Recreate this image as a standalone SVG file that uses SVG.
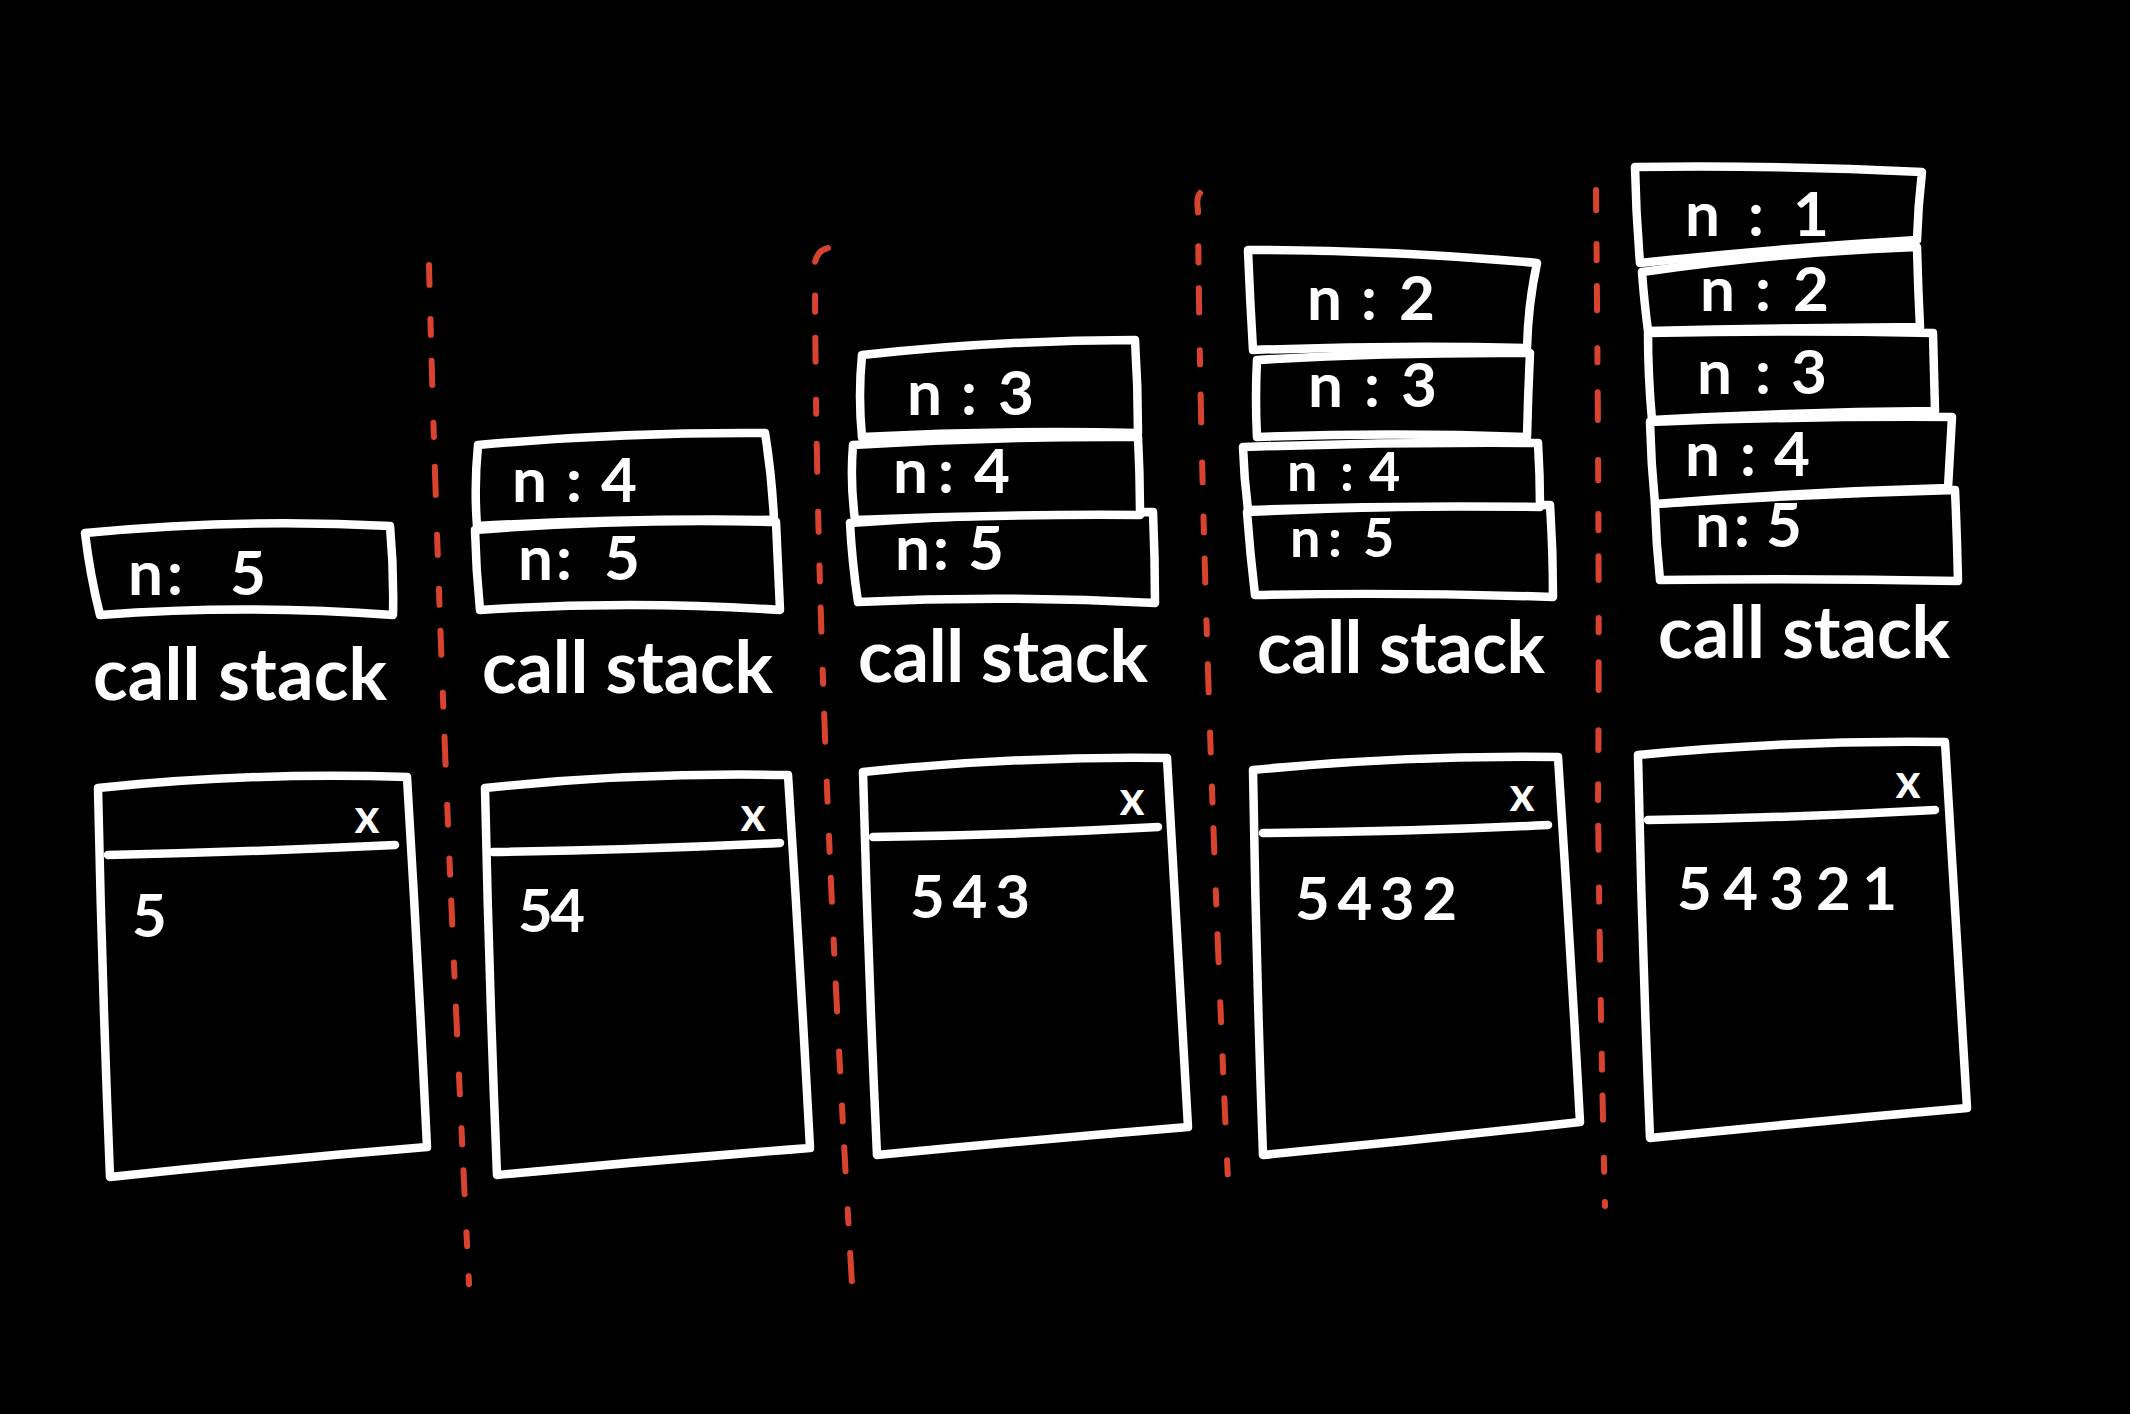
<svg xmlns="http://www.w3.org/2000/svg" width="2130" height="1414" viewBox="0 0 2130 1414">
<style>
.box{fill:#000;stroke:#fff;stroke-width:8.5;stroke-linejoin:round;stroke-linecap:round}
.ln{fill:none;stroke:#fff;stroke-width:8.5;stroke-linecap:round}
.t{font-family:Lato,"Open Sans","Liberation Sans",sans-serif;font-weight:700;fill:#fff}
.lbl{font-size:62px}
.sm{font-size:54px}
.cs{font-size:72px}
.num{font-size:60px}
.xm{font-size:48px;text-anchor:middle}
.dv{fill:none;stroke:#d8432f;stroke-width:6;stroke-linecap:round;stroke-dasharray:20 34 16 26 24 38 14 30 28 40}
</style>
<rect x="0" y="0" width="2130" height="1414" fill="#000"/>

<g id="dividers">
<path class="dv" d="M429,265 Q440,700 469,1284"/>
<path class="dv" d="M828,248 Q818,250 815,262 C815,600 835,1000 854,1318"/>
<path class="dv" d="M1200,193 Q1196,198 1198,210 C1200,500 1215,900 1229,1202"/>
<path class="dv" d="M1596,190 Q1600,600 1598,800 Q1600,1000 1605,1206"/>
</g>

<g id="col1">
<g id="col1-stack">
<path class="box" d="M85,533 Q240,518 390,526 Q394,570 393,615 Q245,604 100,615 Q90,575 85,533 Z"/>
<text class="t lbl" x="128" y="595">n<tspan x="167">:</tspan> <tspan x="230">5</tspan></text>
</g>
<text class="t cs" x="93" y="700" textLength="294" lengthAdjust="spacing">call stack</text>
<g id="col1-window">
<path class="box" d="M98,788 Q250,772 407,777 Q418,960 427,1147 Q270,1160 110,1177 Q102,980 98,788 Z"/>
<path class="ln" d="M108,855 Q250,852 395,845"/>
<text class="t xm" x="367" y="833">x</text>
<text class="t num" x="132" y="937">5</text>
</g>
</g>

<g id="col2">
<g id="col2-stack">
<path class="box" d="M475,530 Q625,518 776,522 Q778,566 780,610 Q630,600 480,610 Q476,570 475,530 Z"/>
<path class="box" d="M478,445 Q620,432 765,433 Q772,476 774,520 Q625,518 477,526 Q474,486 478,445 Z"/>
<text class="t lbl" x="512" y="502">n<tspan x="566">:</tspan><tspan x="601">4</tspan></text>
<text class="t lbl" x="518" y="580">n<tspan x="556">:</tspan> <tspan x="604">5</tspan></text>
</g>
<text class="t cs" x="482" y="693" textLength="291" lengthAdjust="spacing">call stack</text>
<g id="col2-window">
<path class="box" d="M485,788 Q635,772 788,775 Q800,960 810,1148 Q655,1160 497,1175 Q489,980 485,788 Z"/>
<path class="ln" d="M493,852 Q635,850 780,843"/>
<text class="t xm" x="753" y="831">x</text>
<text class="t num" x="518" y="932" textLength="67" lengthAdjust="spacing">54</text>
</g>
</g>

<g id="col3">
<g id="col3-stack">
<path class="box" d="M850,523 Q1000,512 1153,512 Q1155,558 1155,603 Q1005,595 858,602 Q852,562 850,523 Z"/>
<path class="box" d="M853,445 Q995,436 1138,437 Q1140,476 1140,515 Q998,514 855,520 Q850,482 853,445 Z"/>
<path class="box" d="M862,355 Q1000,340 1135,340 Q1138,386 1138,433 Q1000,430 862,437 Q858,396 862,355 Z"/>
<text class="t lbl" x="907" y="415">n<tspan x="961">:</tspan><tspan x="998">3</tspan></text>
<text class="t lbl" x="893" y="493">n<tspan x="938">:</tspan><tspan x="974">4</tspan></text>
<text class="t lbl" x="895" y="570">n<tspan x="933">:</tspan> <tspan x="968">5</tspan></text>
</g>
<text class="t cs" x="858" y="682" textLength="290" lengthAdjust="spacing">call stack</text>
<g id="col3-window">
<path class="box" d="M863,772 Q1015,756 1167,758 Q1178,942 1188,1127 Q1032,1140 877,1155 Q868,962 863,772 Z"/>
<path class="ln" d="M873,837 Q1015,835 1158,827"/>
<text class="t xm" x="1132" y="815">x</text>
<text class="t num" x="910" y="918" textLength="120" lengthAdjust="spacing">543</text>
</g>
</g>

<g id="col4">
<g id="col4-stack">
<path class="box" d="M1247,512 Q1400,505 1550,505 Q1553,550 1553,597 Q1405,592 1255,595 Q1250,553 1247,512 Z"/>
<path class="box" d="M1243,447 Q1390,442 1538,443 Q1540,475 1540,507 Q1395,505 1248,510 Q1244,478 1243,447 Z"/>
<path class="box" d="M1257,360 Q1390,352 1530,353 Q1528,395 1527,437 Q1392,432 1257,437 Q1255,398 1257,360 Z"/>
<path class="box" d="M1248,250 Q1390,250 1537,263 Q1528,305 1527,348 Q1390,345 1253,350 Q1250,300 1248,250 Z"/>
<text class="t lbl" x="1307" y="320">n<tspan x="1361">:</tspan><tspan x="1399">2</tspan></text>
<text class="t lbl" x="1308" y="407">n<tspan x="1364">:</tspan><tspan x="1401">3</tspan></text>
<text class="t sm" x="1287" y="491">n<tspan x="1340">:</tspan><tspan x="1369">4</tspan></text>
<text class="t sm" x="1290" y="557">n<tspan x="1328">:</tspan> <tspan x="1363">5</tspan></text>
</g>
<text class="t cs" x="1257" y="673" textLength="288" lengthAdjust="spacing">call stack</text>
<g id="col4-window">
<path class="box" d="M1253,770 Q1405,755 1558,757 Q1570,940 1580,1122 Q1420,1140 1263,1155 Q1256,962 1253,770 Z"/>
<path class="ln" d="M1263,833 Q1405,832 1548,825"/>
<text class="t xm" x="1522" y="811">x</text>
<text class="t num" x="1295" y="920" textLength="162" lengthAdjust="spacing">5432</text>
</g>
</g>

<g id="col5">
<g id="col5-stack">
<path class="box" d="M1655,504 Q1805,494 1955,490 Q1957,535 1958,581 Q1810,578 1660,580 Q1656,542 1655,504 Z"/>
<path class="box" d="M1650,422 Q1800,416 1952,417 Q1950,452 1948,488 Q1800,492 1655,504 Q1651,463 1650,422 Z"/>
<path class="box" d="M1648,333 Q1790,330 1933,333 Q1934,372 1935,411 Q1795,412 1652,420 Q1648,376 1648,333 Z"/>
<path class="box" d="M1642,272 Q1780,252 1917,247 Q1918,287 1920,327 Q1785,328 1648,331 Q1644,300 1642,272 Z"/>
<path class="box" d="M1635,167 Q1780,165 1922,172 Q1918,206 1917,240 Q1780,248 1640,263 Q1636,215 1635,167 Z"/>
<text class="t lbl" x="1685" y="236">n<tspan x="1748">:</tspan><tspan x="1793">1</tspan></text>
<text class="t lbl" x="1700" y="311">n<tspan x="1755">:</tspan><tspan x="1793">2</tspan></text>
<text class="t lbl" x="1697" y="394">n<tspan x="1755">:</tspan><tspan x="1791">3</tspan></text>
<text class="t lbl" x="1685" y="476">n<tspan x="1740">:</tspan><tspan x="1774">4</tspan></text>
<text class="t lbl" x="1695" y="547">n<tspan x="1734">:</tspan><tspan x="1766">5</tspan></text>
</g>
<text class="t cs" x="1658" y="658" textLength="292" lengthAdjust="spacing">call stack</text>
<g id="col5-window">
<path class="box" d="M1638,755 Q1790,740 1945,742 Q1956,925 1967,1108 Q1808,1122 1650,1138 Q1642,946 1638,755 Z"/>
<path class="ln" d="M1648,820 Q1790,818 1935,810"/>
<text class="t xm" x="1908" y="798">x</text>
<text class="t num" x="1677" y="910" textLength="220" lengthAdjust="spacing">54321</text>
</g>
</g>
</svg>
